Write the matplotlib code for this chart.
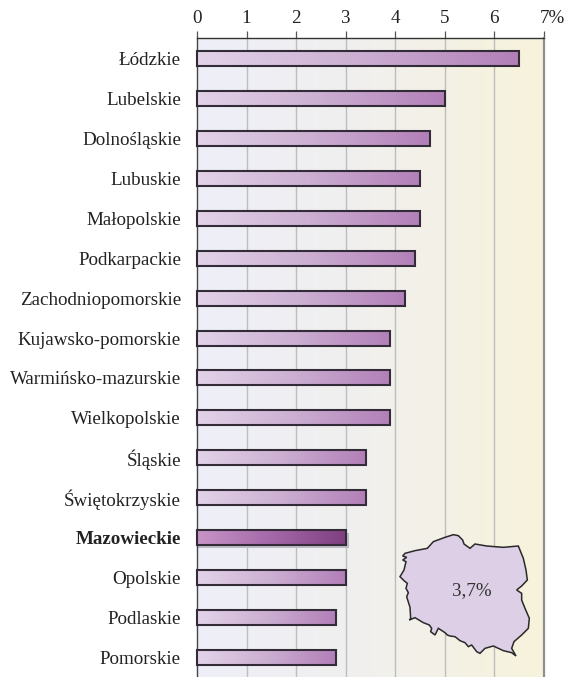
import numpy as np
import matplotlib
matplotlib.use("Agg")
import matplotlib.pyplot as plt
from matplotlib.colors import LinearSegmentedColormap
from matplotlib.patches import Polygon, Rectangle
from matplotlib.transforms import ScaledTranslation

categories = ["Łódzkie", "Lubelskie", "Dolnośląskie", "Lubuskie", "Małopolskie",
              "Podkarpackie", "Zachodniopomorskie", "Kujawsko-pomorskie",
              "Warmińsko-mazurskie", "Wielkopolskie", "Śląskie", "Świętokrzyskie",
              "Mazowieckie", "Opolskie", "Podlaskie", "Pomorskie"]
values = [6.5, 5.0, 4.7, 4.5, 4.5, 4.4, 4.2, 3.9, 3.9, 3.9, 3.4, 3.4, 3.0, 3.0, 2.8, 2.8]
highlight = "Mazowieckie"
tick_values = [0, 1, 2, 3, 4, 5, 6, 7]
tick_labels = ["0", "1", "2", "3", "4", "5", "6", "7%"]
national_label = "3,7%"
# Outline of Poland (decorative), in zoomed-crop pixels
outline_x = [45,38,50,38,48,42,30,42,52,48,55,50,60,62,58,75,100,118,125,122,135,145,165,172,180,195,210,225,235,245,260,270,285,310,340,365,378,365,372,395,415,418,405,395,395,380,395,412,408,400,385,340,290,255,240,222,218,205,190,165,130,112,75]
outline_y = [100,108,112,120,125,150,170,182,190,205,218,230,262,295,300,293,308,315,325,335,345,325,338,345,348,350,362,368,380,375,395,400,385,378,392,398,408,385,365,345,325,295,265,240,220,210,198,180,150,115,78,82,78,72,85,72,60,47,44,52,65,85,92]

W, H = 571, 677
FS = 13.7
plt.rcParams["font.family"] = ["Liberation Serif", "DejaVu Serif"]
fig = plt.figure(figsize=(W / 100, H / 100), dpi=100)
L, R, T, B = 197, 544, 38, 677
ax = fig.add_axes([L / W, 1 - B / H, (R - L) / W, (B - T) / H])
y_top = -(58.5 - T) / 39.93
y_bottom = 15 + (B - 657.5) / 39.93

bg = LinearSegmentedColormap.from_list("bg", ["#EEEEF8", "#F1F0EE", "#F7F3DB"])
ax.imshow(np.linspace(0, 1, 256)[None, :], cmap=bg, extent=[0, 7, y_bottom, y_top],
          aspect="auto", zorder=0)
for t in tick_values[1:-1]:
    ax.axvline(t, color="#BDBDBD", lw=1.0, zorder=1)

normal = LinearSegmentedColormap.from_list("n", ["#E2D3E8", "#CCAFD2", "#B27FB8"])
strong = LinearSegmentedColormap.from_list("s", ["#C795C8", "#A468A8", "#7F3F80"])
h = 15 / 39.93
for i, (c, v) in enumerate(zip(categories, values)):
    is_h = c == highlight
    if is_h:
        ax.add_patch(Rectangle((0.0, i - h / 2 + 0.08), v + 0.07, h, fc="#BDBDC6", ec="none", zorder=2))
    ax.imshow(np.linspace(0, 1, 256)[None, :], cmap=strong if is_h else normal,
              extent=[0, v, i + h / 2, i - h / 2], aspect="auto", zorder=3)
    ax.add_patch(Rectangle((0, i - h / 2), v, h, fc="none", ec="#332B38", lw=1.5, zorder=4, clip_on=False))
ax.set_xlim(0, 7)
ax.set_ylim(y_bottom, y_top)

ax.xaxis.tick_top()
ax.set_xticks(tick_values)
ax.set_xticklabels(tick_labels, fontsize=FS, color="#222222")
ax.tick_params(axis="x", length=5.2, width=0.9, color="#555555", pad=3)
last = ax.get_xticklabels()[-1]
last.set_ha("left")
last.set_transform(last.get_transform() + ScaledTranslation(-4 / 100, 0, fig.dpi_scale_trans))
ax.set_yticks(range(len(categories)))
ax.set_yticklabels(categories, fontsize=FS, color="#222222")
ax.tick_params(axis="y", length=0, pad=11.5)
for lab in ax.get_yticklabels():
    if lab.get_text() == highlight:
        lab.set_fontweight("bold")
ax.spines["bottom"].set_visible(False)
ax.spines["top"].set_color("#333333")
ax.spines["top"].set_linewidth(1)
ax.spines["left"].set_color("#444444")
ax.spines["left"].set_linewidth(1)
ax.spines["right"].set_color("#8E8E8E")
ax.spines["right"].set_linewidth(1.6)

# Inset map, placed in figure pixels
px = 390 + np.array(outline_x) / 3
py = H - (520 + np.array(outline_y) / 3)
fig.add_artist(Polygon(np.column_stack([px / W, py / H]), closed=True, transform=fig.transFigure,
                       fc="#DCCFE6", ec="#2A2A2A", lw=1.1, zorder=6))
fig.text(472 / W, 1 - 591 / H, national_label, ha="center", va="center",
         fontsize=FS, color="#333333", zorder=7)
fig.savefig("out.png", dpi=100)
